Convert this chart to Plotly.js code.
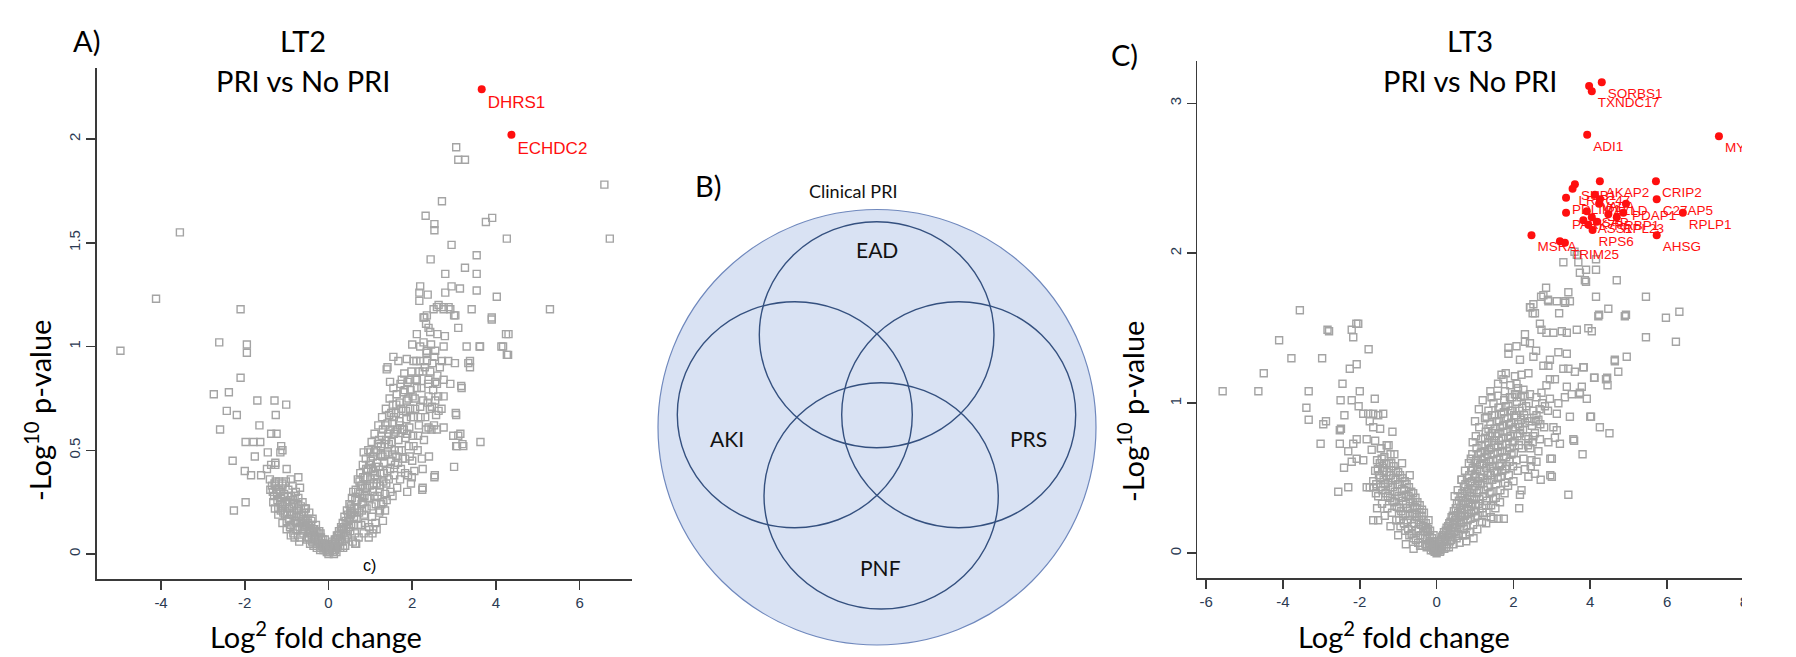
<!DOCTYPE html>
<html>
<head>
<meta charset="utf-8">
<script src="https://cdn.plot.ly/plotly-3.0.1.min.js"></script>
<style>html,body{margin:0;padding:0;background:#fff;}#chart{width:1796px;height:657px;}</style>
</head>
<body>
<div id="chart"></div>
<script>
// ---------- DATA (log2 fold change, -log10 p-value) ----------
// Panel A: LT2, PRI vs No PRI
const lt2_sig_x = [3.66, 4.37];
const lt2_sig_y = [2.24, 2.02];
const lt2_sig_labels = ["DHRS1", "ECHDC2"];

const lt2_outer = [
 [3.05,1.96],[3.10,1.90],[3.26,1.90],[6.59,1.78],[2.71,1.70],[2.32,1.63],[2.53,1.59],[2.53,1.56],[3.76,1.60],[3.91,1.62],
 [4.26,1.52],[6.72,1.52],[2.94,1.49],[3.54,1.44],[2.44,1.42],[3.26,1.38],[2.79,1.35],[3.54,1.35],[2.19,1.29],[2.17,1.26],
 [2.37,1.25],[2.79,1.26],[2.94,1.29],[3.14,1.28],[3.54,1.27],[4.02,1.24],[5.29,1.18],[3.42,1.18],[2.63,1.20],[2.75,1.19],
 [2.87,1.19],[2.35,1.15],[2.51,1.18],[3.90,1.14],[3.00,1.15],[2.29,1.14],
 [-3.55,1.55],[-4.12,1.23],[-2.10,1.18],[-4.97,0.98],[-2.61,1.02],[-1.95,1.01],[-1.95,0.97],[-2.10,0.85],[-2.74,0.77],[-2.38,0.78],
 [-1.70,0.74],[-1.29,0.74],[-1.01,0.72],[-2.43,0.69],[-2.19,0.67],[-1.26,0.67],[-1.65,0.62],[-2.59,0.60],[-1.37,0.58],[-1.24,0.58],
 [-1.98,0.54],[-1.79,0.54],[-1.63,0.54],[-1.13,0.52],[-1.10,0.50],[-1.15,0.49],[-2.29,0.45],[-1.76,0.47],[-1.45,0.49],[-1.27,0.44],
 [-2.00,0.40],[-1.85,0.38],[-1.61,0.38],[-1.47,0.41],[-1.37,0.43],[-1.27,0.43],[-1.00,0.41],[-2.26,0.21],[-1.98,0.25],[-1.39,0.31],
 [-1.27,0.33],[-1.10,0.34],[-0.90,0.36],[-0.72,0.37],[-0.68,0.32],
 [4.24,1.06],[4.29,0.96],[4.13,1.00],[3.61,1.00],[3.30,1.00],[3.38,0.93],[3.38,0.90],[3.17,0.81],[3.04,0.68],[3.63,0.54],
 [3.20,0.53],[3.07,0.52],[3.15,0.58],[3.00,0.42],[2.54,0.38],[2.24,0.31],[2.17,1.22],[2.59,1.19],[2.75,1.18],[2.91,1.18],
 [3.03,1.15],[3.90,1.13],[4.30,1.06],[2.27,1.14],[2.33,1.11],[2.39,1.09],[2.11,1.06],[2.43,1.07],[2.60,1.06],[2.78,1.05],
 [3.10,1.09],[3.62,1.00],[4.17,1.00],[4.26,0.96],[2.00,1.01],[2.19,1.00],[2.35,0.98],[2.55,0.98],[2.75,1.00],[1.55,0.95],
 [1.67,0.93],[1.87,0.94],[2.03,0.93],[2.19,0.93],[2.35,0.93],[2.71,0.93],[2.86,0.93],[3.02,0.92],[3.34,0.92],[1.41,0.90],
 [1.39,0.89],[1.47,0.83],[1.75,0.84],[1.95,0.84],[2.11,0.84],[2.39,0.84],[2.59,0.82],[2.75,0.84],[2.91,0.82],[3.18,0.80],
 [2.39,0.76],[2.55,0.74],[2.75,0.76],[2.47,0.71],[2.63,0.69],[3.05,0.67],[2.39,0.61],[2.59,0.60],[2.75,0.61],[2.98,0.57],
 [3.10,0.57],[3.22,0.52],[3.05,0.52],[2.25,0.41],[2.53,0.37],[1.83,0.39],[1.99,0.37],[2.25,0.32],[1.00,0.49],[0.84,0.49],
 [0.52,0.20],[0.64,0.05],[1.23,0.21],[1.31,0.25],[1.35,0.29],[1.07,0.12],[1.15,0.12]
];
const lt2_left_arm = [
 [-1.35,0.33],[-1.30,0.28],[-1.28,0.22],[-1.25,0.31],[-1.22,0.26],[-1.20,0.19],[-1.18,0.35],[-1.15,0.30],[-1.12,0.24],[-1.10,0.33],
 [-1.08,0.20],[-1.05,0.28],[-1.02,0.35],[-1.00,0.16],[-0.98,0.25],[-0.96,0.31],[-0.94,0.22],[-0.92,0.13],[-0.90,0.28],[-0.88,0.19],
 [-0.86,0.33],[-0.84,0.10],[-0.82,0.24],[-0.80,0.16],[-0.78,0.30],[-0.76,0.21],[-0.74,0.12],[-0.72,0.27],[-0.70,0.18],[-0.68,0.08],
 [-0.66,0.23],[-0.64,0.15],[-0.62,0.25],[-0.60,0.10],[-0.58,0.20],[-0.56,0.13],[-0.54,0.22],[-0.52,0.07],[-0.50,0.17],[-0.48,0.11],
 [-0.46,0.20],[-0.44,0.05],[-0.42,0.14],[-0.40,0.09],[-0.38,0.17],[-0.36,0.04],[-0.34,0.12],[-0.32,0.07],[-0.30,0.14],[-0.28,0.03],
 [-0.26,0.10],[-0.24,0.06],[-0.22,0.11],[-0.20,0.02],[-0.18,0.08],[-0.16,0.05],[-0.14,0.07],[-0.12,0.02],[-0.10,0.05],[-0.08,0.03],
 [-0.06,0.04],[-0.04,0.01],[-0.02,0.02],[-1.40,0.36],[-1.33,0.30],[-1.26,0.35],[-0.95,0.17],[-0.85,0.26],[-0.75,0.15],[-0.65,0.19],
 [-0.55,0.16],[-0.45,0.12],[-0.35,0.10],[-0.25,0.07],[-0.15,0.04],[-1.16,0.25],[-1.06,0.29],[-0.87,0.23],[-0.73,0.24],[-0.63,0.12],
 [-0.50,0.08],[-0.90,0.09],[-1.00,0.12],[-1.10,0.15],[-1.20,0.22],[-0.70,0.06],[-0.81,0.08],
 [-1.32,0.25],[-1.29,0.34],[-1.23,0.29],[-1.19,0.31],[-1.14,0.21],[-1.13,0.27],[-1.09,0.23],[-1.04,0.19],[-1.03,0.24],[-0.99,0.20],
 [-0.97,0.28],[-0.93,0.26],[-0.91,0.19],[-0.89,0.14],[-0.83,0.20],[-0.81,0.28],[-0.79,0.12],[-0.77,0.18],[-0.71,0.22],[-0.69,0.13],
 [-0.67,0.16],[-0.61,0.17],[-0.59,0.13],[-0.57,0.22],[-0.53,0.14],[-0.49,0.15],[-0.47,0.08],[-0.43,0.10],[-0.41,0.16],[-0.39,0.06],
 [-0.37,0.12],[-0.33,0.09],[-0.31,0.05],[-0.29,0.11],[-0.27,0.05],[-0.23,0.08],[-0.21,0.05],[-0.19,0.10],[-0.17,0.03],[-0.13,0.05],
 [-0.11,0.03],[-0.09,0.07],[-0.07,0.02],[-0.05,0.03],[-0.03,0.04],[-0.01,0.01],[0.00,0.00],[0.01,0.02]
];
const lt2_right_arm = [
 [0.03,0.01],[0.05,0.03],[0.08,0.02],[0.10,0.05],[0.12,0.03],[0.15,0.07],[0.17,0.04],[0.20,0.09],[0.22,0.05],[0.25,0.11],
 [0.27,0.07],[0.30,0.13],[0.28,0.03],[0.19,0.01],[0.13,0.00],
 [0.32,0.06],[0.34,0.15],[0.36,0.10],[0.38,0.18],[0.40,0.04],[0.42,0.12],[0.44,0.21],[0.46,0.08],[0.48,0.16],[0.50,0.24],
 [0.52,0.11],[0.54,0.19],[0.56,0.27],[0.58,0.06],[0.60,0.14],[0.35,0.03],[0.45,0.14],[0.55,0.22],[0.59,0.30],
 [0.62,0.22],[0.63,0.10],[0.65,0.31],[0.67,0.17],[0.69,0.26],[0.70,0.36],[0.72,0.08],[0.73,0.20],[0.75,0.29],[0.76,0.39],
 [0.78,0.14],[0.79,0.24],[0.81,0.33],[0.82,0.43],[0.84,0.10],[0.85,0.19],[0.86,0.28],[0.88,0.37],[0.89,0.46],[0.66,0.05],
 [0.74,0.35],[0.83,0.25],[0.87,0.15],
 [0.91,0.22],[0.92,0.32],[0.94,0.41],[0.95,0.50],[0.97,0.13],[0.98,0.27],[1.00,0.36],[1.01,0.45],[1.03,0.54],[1.04,0.18],
 [1.06,0.30],[1.07,0.40],[1.09,0.49],[1.10,0.58],[1.12,0.15],[1.13,0.24],[1.15,0.34],[1.16,0.44],[1.18,0.53],[1.19,0.62],
 [0.96,0.08],[1.05,0.10],[1.11,0.38],[1.17,0.28],
 [1.21,0.20],[1.22,0.30],[1.24,0.39],[1.25,0.48],[1.27,0.57],[1.28,0.66],[1.30,0.16],[1.31,0.35],[1.33,0.44],[1.34,0.53],
 [1.36,0.62],[1.37,0.70],[1.39,0.26],[1.40,0.40],[1.42,0.49],[1.43,0.58],[1.45,0.67],[1.46,0.75],[1.48,0.30],[1.49,0.45],
 [1.26,0.24],[1.35,0.21],[1.44,0.36],
 [1.51,0.54],[1.52,0.63],[1.54,0.72],[1.55,0.80],[1.57,0.38],[1.58,0.50],[1.60,0.59],[1.61,0.68],[1.63,0.77],[1.64,0.32],
 [1.66,0.44],[1.67,0.55],[1.69,0.64],[1.70,0.73],[1.72,0.82],[1.73,0.41],[1.75,0.50],[1.76,0.60],[1.78,0.69],[1.79,0.78],
 [1.53,0.28],[1.62,0.47],[1.71,0.36],
 [1.81,0.87],[1.83,0.46],[1.84,0.56],[1.86,0.65],[1.87,0.74],[1.89,0.83],[1.90,0.38],[1.92,0.52],[1.93,0.61],[1.95,0.70],
 [1.96,0.79],[1.98,0.88],[2.00,0.45],[2.02,0.57],[2.04,0.66],[2.06,0.75],[2.08,0.84],[2.10,0.93],[2.13,0.50],[2.16,0.62],
 [2.19,0.71],[2.22,0.80],[1.88,0.30],[1.97,0.34],[2.05,0.40],
 [2.25,0.88],[2.28,0.55],[2.31,0.66],[2.34,0.97],[2.37,0.73],[2.40,0.47],[2.43,0.88],[2.46,0.60],[2.50,0.79],[2.53,0.95],
 [2.57,0.67],[2.60,0.86],[2.27,1.02],[2.45,1.01],
 [0.06,0.04],[0.09,0.06],[0.11,0.01],[0.14,0.05],[0.16,0.02],[0.18,0.07],[0.21,0.03],[0.23,0.09],[0.26,0.06],[0.29,0.10],
 [0.31,0.09],[0.33,0.12],[0.37,0.13],[0.39,0.07],[0.41,0.16],[0.43,0.09],[0.47,0.19],[0.49,0.13],[0.51,0.17],[0.53,0.23],
 [0.57,0.20],[0.61,0.18],[0.64,0.26],[0.68,0.22],[0.71,0.30],[0.71,0.14],[0.77,0.33],[0.80,0.27],[0.80,0.21],[0.83,0.37],
 [0.87,0.32],[0.90,0.41],[0.93,0.27],[0.93,0.37],[0.97,0.43],[0.99,0.33],[1.02,0.41],[1.03,0.23],[1.06,0.47],[1.08,0.34],
 [1.10,0.28],[1.13,0.42],[1.14,0.50],[1.17,0.36],[1.20,0.42],[1.21,0.55],[1.23,0.33],[1.25,0.52],[1.29,0.47],[1.30,0.60],
 [1.32,0.39],[1.35,0.48],[1.38,0.55],[1.38,0.34],[1.41,0.63],[1.44,0.53],[1.47,0.60],[1.47,0.41],[1.50,0.68],[1.53,0.48],
 [1.56,0.58],[1.56,0.66],[1.59,0.43],[1.62,0.72],[1.65,0.60],[1.68,0.50],[1.71,0.62],[1.74,0.70],[1.77,0.46],[1.80,0.60],
 [1.82,0.79],[1.85,0.69],[1.88,0.58],[1.91,0.75],[1.94,0.47],[1.97,0.66],[2.01,0.76],[2.03,0.52],[2.07,0.70],[2.11,0.80],
 [2.14,0.57],[2.17,0.88],[2.20,0.66],[2.23,0.46],[2.26,0.74],[2.30,0.90],[2.33,0.60],[2.38,0.82],[2.42,0.70],[2.48,0.92],
 [2.52,0.62],[2.55,0.83],[2.62,0.76],[2.66,0.90],[2.70,0.70]
];

// Panel C: LT3, PRI vs No PRI
const lt3_sig_x = [4.30, 4.04, 3.92, 7.35, 3.60, 3.54, 4.25, 5.71, 3.37, 4.12, 4.25, 4.93, 5.73, 3.37, 3.91, 4.04, 4.47, 4.69, 6.41, 4.06, 5.73, 2.47, 3.34];
const lt3_sig_y = [3.14, 3.08, 2.79, 2.78, 2.46, 2.43, 2.48, 2.48, 2.37, 2.39, 2.36, 2.33, 2.36, 2.27, 2.28, 2.24, 2.26, 2.24, 2.27, 2.155, 2.12, 2.12, 2.07];
const lt3_sig_labels = ["SORBS1", "TXNDC17", "ADI1", "MYL9", "SUB1", "LRRC47", "AKAP2", "CRIP2", "PDLIM1", "VAPA", "PALLD", "PDAP1", "C27AP5", "PARK7", "PSAP", "ASS1", "RRBP1", "RPL23", "RPLP1", "RPS6", "AHSG", "MSRA", "TRIM25"];
// significant proteins whose labels are hidden under others
const lt3_sig_unlab_x = [3.97, 4.86, 3.21, 3.82, 4.17, 3.95, 4.23];
const lt3_sig_unlab_y = [3.115, 2.27, 2.08, 2.22, 2.21, 2.19, 2.33];

const lt3_outer = [
 [3.30,1.94],[3.69,1.94],[4.15,1.96],[3.89,1.89],[3.73,1.87],[4.15,1.89],[3.86,1.82],[4.69,1.82],[2.85,1.77],[3.43,1.74],
 [2.72,1.71],[4.15,1.71],[5.45,1.71],[2.90,1.69],[3.35,1.68],[3.13,1.68],[2.44,1.64],[2.50,1.60],[3.19,1.60],[4.23,1.59],
 [4.93,1.59],[5.97,1.57],[6.32,1.61],[4.47,1.63],[4.21,1.58],[3.65,1.99],[3.59,2.01],
 [-3.56,1.62],[-2.09,1.53],[-2.84,1.49],[-4.10,1.42],[-2.80,1.48],[-2.21,1.49],[-2.04,1.53],[-2.17,1.44],[-1.77,1.36],[-3.78,1.30],
 [-2.98,1.30],[-4.50,1.20],[-2.26,1.23],[-2.08,1.26],[-5.57,1.08],[-4.64,1.08],[-3.33,1.08],[-2.45,1.13],[-2.00,1.08],[-3.39,0.97],
 [-3.33,0.89],[-2.95,0.86],[-2.88,0.88],[-2.50,1.02],[-2.21,1.02],[-2.03,0.98],[-1.61,1.03],[-2.40,0.92],[-2.52,0.82],[-2.49,0.83],
 [-3.02,0.73],[-2.52,0.73],[-2.17,0.73],[-1.91,0.93],[-1.78,0.93],[-1.65,0.93],[-1.52,0.92],[-1.39,0.93],[-1.74,0.88],[-1.65,0.84],
 [-1.47,0.83],[-2.08,0.76],[-1.82,0.76],[-1.69,0.69],[-2.30,0.68],[-2.21,0.61],[-2.08,0.63],[-1.91,0.62],[-2.41,0.57],[-2.56,0.41],
 [-2.30,0.44],[-1.82,0.44],[-1.74,0.44],[-1.65,0.44],[-1.65,0.22],[-1.52,0.22],[-1.15,0.81],[-1.60,0.75],[-1.45,0.70],[-1.30,0.72],
 [-1.20,0.66],
 [2.78,1.72],[2.91,1.68],[3.34,1.67],[3.47,1.68],[3.89,1.81],[4.90,1.58],[5.45,1.44],[6.23,1.41],[2.43,1.64],[2.56,1.60],
 [2.52,1.66],[2.69,1.53],[2.73,1.49],[2.86,1.47],[3.04,1.47],[3.26,1.48],[3.39,1.47],[3.65,1.49],[3.95,1.50],[4.04,1.48],
 [2.30,1.46],[2.30,1.41],[2.43,1.40],[1.87,1.37],[1.87,1.33],[2.08,1.38],[2.17,1.29],[2.52,1.31],[2.59,1.35],[2.95,1.29],
 [2.78,1.25],[2.91,1.25],[3.17,1.34],[3.39,1.33],[3.30,1.23],[3.43,1.23],[3.60,1.21],[3.82,1.24],[4.64,1.29],[4.95,1.31],
 [4.73,1.21],[4.11,1.17],[4.41,1.16],[4.45,1.12],[3.91,1.03],[3.73,1.07],[3.78,1.11],[3.39,1.11],[3.08,1.16],[2.95,1.16],
 [2.86,1.12],[1.69,1.19],[1.74,1.16],[2.04,1.18],[2.08,1.13],[2.21,1.19],[2.39,1.20],[1.43,1.04],[1.48,1.00],[1.61,0.97],
 [1.78,1.08],[1.91,1.04],[2.08,1.06],[2.26,1.09],[2.43,1.06],[2.60,1.04],[2.73,1.07],[2.95,1.03],[3.17,1.00],[3.34,1.04],
 [3.52,1.06],[3.73,1.06],[2.82,0.98],[3.13,0.93],[3.04,0.84],[3.13,0.82],[3.47,0.91],[4.02,0.91],[4.25,0.84],[4.50,0.80],
 [3.58,0.75],[3.80,0.66],[3.00,0.63],[3.00,0.51],[2.71,0.49],[3.43,0.39],[2.15,0.30],[1.48,0.23],[1.61,0.23],[1.75,0.23],
 [1.00,0.88],[1.30,0.91],[2.47,0.62],[2.60,0.61],[2.56,0.53],[2.39,0.51],[2.21,0.42],[2.17,0.39],[2.39,0.76],[2.52,0.78],
 [2.69,0.76],[2.91,0.74],[3.21,0.73],[3.08,0.77],[2.17,0.84],[2.30,0.87],[2.65,0.89],[4.64,1.28],[4.44,1.17],[4.10,1.17],
 [4.00,0.91],[3.56,0.76],[2.96,0.52],[2.96,0.63],[3.83,1.24],[0.94,0.74],[0.89,0.63],[0.65,0.49]
];
const lt3_left_arm = [
 [-1.60,0.55],[-1.57,0.46],[-1.55,0.62],[-1.52,0.38],[-1.50,0.52],[-1.48,0.60],[-1.45,0.44],[-1.42,0.33],[-1.40,0.57],[-1.38,0.49],
 [-1.36,0.64],[-1.33,0.40],[-1.30,0.54],[-1.28,0.30],[-1.26,0.47],[-1.24,0.60],[-1.21,0.37],[-1.19,0.52],[-1.16,0.27],[-1.14,0.44],
 [-1.12,0.58],[-1.10,0.34],[-1.07,0.49],[-1.05,0.22],[-1.03,0.41],[-1.00,0.54],[-0.98,0.30],[-0.96,0.46],[-0.94,0.18],[-0.91,0.37],
 [-0.89,0.50],[-0.87,0.26],[-0.84,0.42],[-0.82,0.15],[-0.80,0.33],[-0.78,0.46],[-0.75,0.22],[-0.73,0.38],[-0.71,0.12],[-0.69,0.30],
 [-0.66,0.41],[-0.64,0.18],[-0.62,0.34],[-0.60,0.10],[-0.57,0.26],[-0.55,0.37],[-0.53,0.15],[-0.51,0.30],[-0.48,0.07],[-0.46,0.22],
 [-0.44,0.32],[-0.42,0.12],[-0.39,0.25],[-0.37,0.05],[-0.35,0.18],[-0.33,0.27],[-0.30,0.10],[-0.28,0.20],[-0.26,0.04],[-0.24,0.14],
 [-0.21,0.22],[-0.19,0.07],[-0.17,0.15],[-0.15,0.02],[-0.12,0.10],[-0.10,0.05],[-0.08,0.12],[-0.06,0.03],[-0.04,0.06],[-0.02,0.02],
 [-1.25,0.72],[-1.45,0.70],[-1.10,0.66],[-0.90,0.60],[-0.70,0.52],[-1.65,0.48],[-1.55,0.30],[-1.35,0.25],[-1.20,0.18],[-1.00,0.12],
 [-0.80,0.06],[-0.60,0.03],
 [-1.58,0.40],[-1.53,0.56],[-1.47,0.50],[-1.43,0.63],[-1.41,0.42],[-1.37,0.55],[-1.34,0.46],[-1.31,0.60],[-1.27,0.38],[-1.23,0.52],
 [-1.20,0.44],[-1.18,0.60],[-1.15,0.35],[-1.13,0.50],[-1.09,0.41],[-1.06,0.55],[-1.04,0.31],[-1.01,0.46],[-0.99,0.38],[-0.97,0.22],
 [-0.95,0.52],[-0.92,0.28],[-0.90,0.43],[-0.88,0.35],[-0.85,0.20],[-0.83,0.48],[-0.81,0.26],[-0.79,0.39],[-0.77,0.30],[-0.74,0.16],
 [-0.72,0.44],[-0.70,0.25],[-0.68,0.36],[-0.65,0.13],[-0.63,0.27],[-0.61,0.40],[-0.59,0.20],[-0.56,0.31],[-0.54,0.09],[-0.52,0.24],
 [-0.50,0.34],[-0.47,0.16],[-0.45,0.27],[-0.43,0.05],[-0.41,0.19],[-0.38,0.29],[-0.36,0.10],[-0.34,0.22],[-0.31,0.15],[-0.29,0.06],
 [-0.27,0.17],[-0.25,0.10],[-0.22,0.16],[-0.20,0.05],[-0.18,0.11],[-0.16,0.08],[-0.13,0.04],[-0.11,0.08],[-0.09,0.02],[-0.07,0.05],
 [-0.05,0.01],[-0.03,0.03],[0.00,0.00],[0.01,0.01]
];
const lt3_right_arm = [
 [0.02,0.01],[0.05,0.03],[0.07,0.06],[0.10,0.02],[0.12,0.09],[0.15,0.05],[0.17,0.12],[0.20,0.03],[0.22,0.08],[0.24,0.15],
 [0.27,0.06],[0.29,0.11],[0.30,0.18],
 [0.32,0.04],[0.34,0.13],[0.36,0.21],[0.38,0.09],[0.40,0.17],[0.42,0.25],[0.44,0.06],[0.46,0.14],[0.48,0.22],[0.50,0.30],
 [0.52,0.10],[0.54,0.19],[0.56,0.27],[0.58,0.35],[0.60,0.07],[0.47,0.38],[0.55,0.42],
 [0.62,0.16],[0.63,0.24],[0.65,0.32],[0.67,0.40],[0.68,0.12],[0.70,0.21],[0.72,0.29],[0.73,0.37],[0.75,0.46],[0.77,0.08],
 [0.78,0.18],[0.80,0.26],[0.82,0.34],[0.83,0.43],[0.85,0.52],[0.86,0.14],[0.88,0.23],[0.89,0.31],[0.65,0.49],[0.74,0.55],
 [0.84,0.60],[0.76,0.12],
 [0.91,0.40],[0.92,0.48],[0.94,0.57],[0.95,0.19],[0.97,0.28],[0.98,0.36],[1.00,0.45],[1.01,0.53],[1.03,0.62],[1.04,0.70],
 [1.06,0.16],[1.07,0.25],[1.09,0.33],[1.10,0.42],[1.12,0.50],[1.13,0.59],[1.15,0.67],[1.16,0.76],[1.18,0.21],[1.19,0.30],
 [0.93,0.66],[1.02,0.78],[1.11,0.84],[0.96,0.10],
 [1.21,0.38],[1.22,0.47],[1.24,0.55],[1.25,0.64],[1.27,0.72],[1.28,0.81],[1.30,0.27],[1.31,0.35],[1.33,0.44],[1.34,0.52],
 [1.36,0.61],[1.37,0.69],[1.39,0.78],[1.40,0.86],[1.42,0.32],[1.43,0.41],[1.45,0.49],[1.46,0.58],[1.48,0.66],[1.49,0.75],
 [1.26,0.90],[1.35,0.95],[1.44,0.92],[1.29,0.20],[1.41,0.24],
 [1.51,0.83],[1.52,0.92],[1.54,0.37],[1.55,0.46],[1.57,0.54],[1.58,0.63],[1.60,0.71],[1.61,0.80],[1.63,0.88],[1.64,0.97],
 [1.66,0.42],[1.67,0.51],[1.69,0.60],[1.70,0.68],[1.72,0.77],[1.73,0.85],[1.75,0.94],[1.76,1.02],[1.78,0.47],[1.79,0.56],
 [1.53,0.30],[1.65,0.34],[1.77,0.40],[1.59,1.05],
 [1.81,0.64],[1.82,0.73],[1.84,0.81],[1.85,0.90],[1.87,0.98],[1.88,0.52],[1.90,0.61],[1.91,0.70],[1.93,0.78],[1.94,0.87],
 [1.96,0.95],[1.97,1.04],[1.99,0.58],[2.01,0.67],[2.03,0.75],[2.05,0.84],[2.07,0.92],[2.09,1.01],[2.11,0.55],[2.14,0.72],
 [2.17,0.80],[2.20,0.89],[1.86,0.45],[2.00,0.48],[2.12,1.10],[1.92,1.12],
 [2.23,0.97],[2.26,0.63],[2.29,1.05],[2.32,0.78],[2.36,0.90],[2.40,1.00],[2.44,0.70],[2.48,0.85],[2.52,0.95],[2.56,0.80],
 [2.60,0.92],[2.65,0.68],[2.70,0.86],[2.75,1.00],[2.30,0.56],[2.45,0.58],
 [0.04,0.04],[0.08,0.08],[0.09,0.01],[0.13,0.04],[0.14,0.11],[0.18,0.08],[0.19,0.14],[0.23,0.11],[0.25,0.04],[0.26,0.17],
 [0.31,0.12],[0.33,0.20],[0.35,0.08],[0.37,0.15],[0.39,0.24],[0.41,0.11],[0.43,0.19],[0.45,0.28],[0.49,0.17],[0.51,0.25],
 [0.53,0.33],[0.57,0.13],[0.59,0.22],[0.61,0.30],[0.62,0.38],[0.64,0.20],[0.66,0.27],[0.69,0.35],[0.71,0.44],[0.71,0.16],
 [0.74,0.25],[0.76,0.33],[0.79,0.41],[0.79,0.50],[0.81,0.22],[0.84,0.29],[0.87,0.38],[0.87,0.47],[0.90,0.55],[0.90,0.27],
 [0.93,0.33],[0.96,0.42],[0.99,0.51],[0.99,0.60],[1.01,0.24],[1.02,0.32],[1.05,0.40],[1.05,0.56],[1.08,0.48],[1.08,0.66],
 [1.11,0.36],[1.14,0.46],[1.14,0.55],[1.17,0.63],[1.17,0.72],[1.20,0.27],[1.20,0.50],[1.23,0.42],[1.23,0.60],[1.26,0.68],
 [1.26,0.77],[1.29,0.32],[1.29,0.57],[1.32,0.49],[1.32,0.66],[1.35,0.74],[1.35,0.83],[1.38,0.40],[1.38,0.58],[1.41,0.52],
 [1.41,0.70],[1.44,0.80],[1.47,0.36],[1.47,0.62],[1.50,0.55],[1.50,0.72],[1.53,0.78],[1.56,0.88],[1.59,0.50],[1.59,0.67],
 [1.62,0.58],[1.62,0.75],[1.65,0.84],[1.68,0.93],[1.71,0.55],[1.71,0.72],[1.74,0.64],[1.74,0.81],[1.77,0.90],[1.80,0.98],
 [1.83,0.58],[1.83,0.68],[1.86,0.77],[1.89,0.86],[1.92,0.95],[1.95,0.66],[1.98,0.74],[1.98,0.83],[2.02,0.92],[2.04,1.06],
 [2.08,0.62],[2.10,0.78],[2.13,0.86],[2.16,0.95],[2.19,1.04],[2.22,0.70],[2.25,0.82],[2.28,0.92],[2.33,0.98],[2.38,0.72],
 [2.42,0.88],[2.50,0.74],[2.58,0.88],[2.68,0.96],[2.80,0.84],[2.90,0.95],[1.10,0.96],[1.20,1.02],[1.40,1.08],[1.60,1.13],
 [1.80,1.20]
];

// Tick values
const lt2_xticks = [-4, -2, 0, 2, 4, 6];
const lt2_yticks = [0, 0.5, 1, 1.5, 2];
const lt3_xticks = [-6, -4, -2, 0, 2, 4, 6, 8];
const lt3_yticks = [0, 1, 2, 3];

// Text
const panelLetters = ["A)", "B)", "C)"];
const panelTitles = ["LT2", "LT3"];
const comparison = "PRI vs No PRI";
const xTitle = "Log<sup>2</sup> fold change";
const yTitle = "-Log<sup>10</sup> p-value";
const vennOuter = "Clinical PRI";
const vennSets = ["EAD", "AKI", "PRS", "PNF"];
const strayLabel = "c)";

// ---------- LAYOUT ----------
const W = 1796, H = 657;
const px = v => v / W;
const py = v => 1 - v / H;

const gray = '#a4a4a4';
const red = '#ff0f0f';
const axisCol = '#3a3a3a';
const tickCol = '#2b3a52';

const all2 = lt2_outer.concat(lt2_left_arm, lt2_right_arm);
const all3 = lt3_outer.concat(lt3_left_arm, lt3_right_arm);

const grayMarker = {symbol: 'square-open', size: 7, color: gray, line: {width: 1.4, color: gray}};
const redMarker = {symbol: 'circle', size: 8, color: red};

const traces = [
  {type: 'scatter', mode: 'markers', x: all2.map(p => p[0]), y: all2.map(p => p[1]),
   xaxis: 'x', yaxis: 'y', marker: grayMarker, hoverinfo: 'skip'},
  {type: 'scatter', mode: 'markers+text', x: lt2_sig_x, y: lt2_sig_y, text: lt2_sig_labels,
   textposition: 'bottom right', textfont: {family: 'Liberation Sans, Arial, sans-serif', size: 17, color: red},
   xaxis: 'x', yaxis: 'y', marker: redMarker, cliponaxis: false},
  {type: 'scatter', mode: 'markers', x: all3.map(p => p[0]), y: all3.map(p => p[1]),
   xaxis: 'x2', yaxis: 'y2', marker: grayMarker, hoverinfo: 'skip'},
  {type: 'scatter', mode: 'markers', x: lt3_sig_unlab_x, y: lt3_sig_unlab_y,
   xaxis: 'x2', yaxis: 'y2', marker: redMarker},
  {type: 'scatter', mode: 'markers+text', x: lt3_sig_x, y: lt3_sig_y, text: lt3_sig_labels,
   textposition: 'bottom right', textfont: {family: 'Liberation Sans, Arial, sans-serif', size: 13.5, color: red},
   xaxis: 'x2', yaxis: 'y2', marker: redMarker, cliponaxis: false}
];

function xAx(domain, range, ticks, anchor) {
  return {domain: domain, range: range, anchor: anchor, tickmode: 'array', tickvals: ticks,
    ticktext: ticks.map(String), showline: true, linecolor: axisCol, linewidth: 1.6,
    ticks: 'outside', ticklen: 9, tickwidth: 1.6, tickcolor: axisCol, showgrid: false, zeroline: false,
    tickfont: {family: 'Liberation Sans, Arial, sans-serif', size: 15, color: tickCol}, fixedrange: true};
}
function yAx(domain, range, ticks, anchor) {
  const a = xAx(domain, range, ticks, anchor);
  a.tickangle = -90;
  return a;
}

const titleFont = {family: 'Lato, Open Sans, sans-serif', size: 29, color: '#000'};
function ann(text, x, y, font, extra) {
  return Object.assign({text: text, x: px(x), y: py(y), xref: 'paper', yref: 'paper',
    xanchor: 'center', yanchor: 'middle', showarrow: false, font: font}, extra || {});
}
const vennFont = {family: 'Lato, Open Sans, sans-serif', size: 21, color: '#111'};

const annotations = [
  ann(panelLetters[0], 86, 40, titleFont),
  ann(panelTitles[0], 303, 40, titleFont),
  ann(comparison, 303, 80, titleFont),
  ann(panelLetters[2], 1124, 55, titleFont),
  ann(panelTitles[1], 1470, 40, titleFont),
  ann(comparison, 1470, 80, titleFont),
  ann(panelLetters[1], 708, 185, titleFont),
  ann(vennOuter, 853, 191, {family: 'Lato, Open Sans, sans-serif', size: 18, color: '#111'}),
  ann(vennSets[0], 877, 249, vennFont),
  ann(vennSets[1], 727, 438, vennFont),
  ann(vennSets[2], 1028, 438, vennFont),
  ann(vennSets[3], 880, 567, vennFont),
  ann(strayLabel, 369, 565, {family: 'Liberation Sans, Arial, sans-serif', size: 16, color: '#000'}),
  ann(yTitle, 38, 411, titleFont, {textangle: -90}),
  ann(yTitle, 1131, 412, titleFont, {textangle: -90}),
  ann(xTitle, 316, 656, titleFont, {yanchor: 'bottom'}),
  ann(xTitle, 1404, 656, titleFont, {yanchor: 'bottom'})
];

function circ(x0, x1, y0, y1, fill, line, lw) {
  return {type: 'circle', xref: 'paper', yref: 'paper', x0: px(x0), x1: px(x1), y0: py(y1), y1: py(y0),
    fillcolor: fill, line: {color: line, width: lw}, layer: 'above'};
}
const shapes = [
  circ(658, 1096, 209.5, 645, '#d9e2f3', '#6f88bd', 1.2),
  circ(759.3, 994, 221.7, 447.7, 'rgba(0,0,0,0)', '#34507f', 1.4),
  circ(677.3, 912.3, 301.7, 527.7, 'rgba(0,0,0,0)', '#34507f', 1.4),
  circ(841.7, 1075.7, 301.7, 527.7, 'rgba(0,0,0,0)', '#34507f', 1.4),
  circ(764, 998.3, 382.7, 609, 'rgba(0,0,0,0)', '#34507f', 1.4),
  {type: 'rect', xref: 'paper', yref: 'paper', x0: px(1742), x1: 1, y0: 0, y1: 1,
   fillcolor: '#ffffff', line: {width: 0}, layer: 'above'}
];

const layout = {
  width: W, height: H, margin: {l: 0, r: 0, t: 0, b: 0},
  paper_bgcolor: '#ffffff', plot_bgcolor: 'rgba(0,0,0,0)', showlegend: false,
  xaxis: xAx([px(97), px(632)], [-5.53, 7.25], lt2_xticks, 'y'),
  yaxis: yAx([py(579), py(67.6)], [-0.12, 2.344], lt2_yticks, 'x'),
  xaxis2: xAx([px(1197.3), px(1743.9)], [-6.23, 8.0], lt3_xticks, 'y2'),
  yaxis2: yAx([py(578.3), py(61.3)], [-0.167, 3.28], lt3_yticks, 'x2'),
  annotations: annotations,
  shapes: shapes
};

Plotly.newPlot('chart', traces, layout, {displayModeBar: false, staticPlot: true});
</script>
</body>
</html>
